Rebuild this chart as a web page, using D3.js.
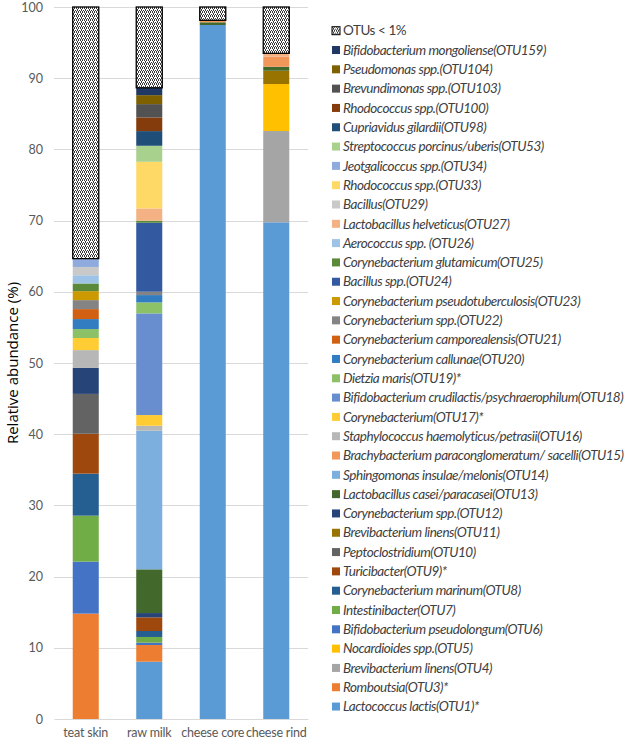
<!DOCTYPE html>
<html>
<head>
<meta charset="utf-8">
<script src="https://cdn.jsdelivr.net/npm/d3@7"></script>
<style>
  html, body { margin: 0; padding: 0; background: #fff; }
  svg { display: block; }
</style>
</head>
<body>
<svg id="chart" width="625" height="742"></svg>
<script>
const categories = ["teat skin", "raw milk", "cheese core", "cheese rind"];

// bottom-to-top stacking order
const seriesNames = [
  "Lactococcus lactis(OTU1)*",
  "Romboutsia(OTU3)*",
  "Brevibacterium linens(OTU4)",
  "Nocardioides spp.(OTU5)",
  "Bifidobacterium pseudolongum(OTU6)",
  "Intestinibacter(OTU7)",
  "Corynebacterium marinum(OTU8)",
  "Turicibacter(OTU9)*",
  "Peptoclostridium(OTU10)",
  "Brevibacterium linens(OTU11)",
  "Corynebacterium spp.(OTU12)",
  "Lactobacillus casei/paracasei(OTU13)",
  "Sphingomonas insulae/melonis(OTU14)",
  "Brachybacterium paraconglomeratum/ sacelli(OTU15)",
  "Staphylococcus haemolyticus/petrasii(OTU16)",
  "Corynebacterium(OTU17)*",
  "Bifidobacterium crudilactis/psychraerophilum(OTU18)",
  "Dietzia maris(OTU19)*",
  "Corynebacterium callunae(OTU20)",
  "Corynebacterium camporealensis(OTU21)",
  "Corynebacterium spp.(OTU22)",
  "Corynebacterium pseudotuberculosis(OTU23)",
  "Bacillus spp.(OTU24)",
  "Corynebacterium glutamicum(OTU25)",
  "Aerococcus spp. (OTU26)",
  "Lactobacillus helveticus(OTU27)",
  "Bacillus(OTU29)",
  "Rhodococcus spp.(OTU33)",
  "Jeotgalicoccus spp.(OTU34)",
  "Streptococcus porcinus/uberis(OTU53)",
  "Cupriavidus gilardii(OTU98)",
  "Rhodococcus spp.(OTU100)",
  "Brevundimonas spp.(OTU103)",
  "Pseudomonas spp.(OTU104)",
  "Bifidobacterium mongoliense(OTU159)",
  "OTUs < 1%"
];

const seriesColors = [
  "#5B9BD5", "#ED7D31", "#A5A5A5", "#FFC000", "#4472C4", "#70AD47",
  "#255E91", "#9E480E", "#636363", "#997300", "#264478", "#43682B",
  "#7CAFDD", "#F1975A", "#B7B7B7", "#FFCD33", "#698ED0", "#8CC168",
  "#327DC2", "#D26012", "#848484", "#CC9A00", "#335AA1", "#5A8A39",
  "#9DC3E6", "#F4B183", "#C9C9C9", "#FFD966", "#8FAADC", "#A9D18E",
  "#1F4E79", "#843C0C", "#525252", "#7F6000", "#203864", "url(#checker)"
];

// values (%) in the same order as seriesNames
const teatSkin   = [0, 14.8, 0, 0, 7.3, 6.46, 5.9, 5.6, 5.6, 0, 3.65, 0, 0, 0, 2.5, 1.7, 0, 1.26, 1.4, 1.4, 1.26, 1.26, 0, 1.08, 1.15, 0, 1.17, 0, 1.17, 0, 0, 0, 0, 0, 0, 35.34];
const rawMilk    = [8.05, 2.34, 0, 0, 0.33, 0.8, 0.84, 1.92, 0, 0, 0.6, 6.14, 19.47, 0, 0.7, 1.5, 14.28, 1.54, 1.03, 0, 0.47, 0, 9.69, 0.28, 0, 1.73, 0, 6.55, 0, 2.25, 2.06, 1.92, 1.87, 1.26, 1.03, 11.35];
const cheeseCore = [97.47, 0, 0, 0, 0, 0, 0, 0, 0, 0, 0, 0.38, 0, 0.28, 0, 0, 0, 0, 0, 0, 0, 0, 0, 0, 0, 0, 0, 0, 0, 0, 0, 0, 0, 0, 0, 1.87];
const cheeseRind = [69.76, 0, 12.82, 6.6, 0, 0, 0, 0, 0, 1.87, 0, 0.56, 0, 1.4, 0, 0, 0, 0, 0, 0, 0, 0, 0, 0, 0, 0.48, 0, 0, 0, 0, 0, 0, 0, 0, 0, 6.51];

const yTicks = [0, 10, 20, 30, 40, 50, 60, 70, 80, 90, 100];
const yLabel = "Relative abundance (%)";

const valuesByCategory = [teatSkin, rawMilk, cheeseCore, cheeseRind];
const table = categories.map((c, i) => {
  const row = { category: c };
  seriesNames.forEach((s, j) => row[s] = valuesByCategory[i][j]);
  return row;
});

const svg = d3.select("#chart");
const defs = svg.append("defs");
const pat = defs.append("pattern")
  .attr("id", "checker").attr("patternUnits", "userSpaceOnUse")
  .attr("width", 4).attr("height", 4);
pat.append("rect").attr("width", 4).attr("height", 4).attr("fill", "#ffffff");
[[0,0],[2,0],[1,1],[3,2],[1,2],[2,3],[0,3]].forEach(([px,py]) => {
  pat.append("rect").attr("x", px).attr("y", py).attr("width", 1).attr("height", 1).attr("fill", "#3a3a3a");
});

const x = d3.scaleBand().domain(categories).range([54, 308]).paddingInner(0.59).paddingOuter(0.295);
const y = d3.scaleLinear().domain([0, 100]).range([719, 7]);
const color = d3.scaleOrdinal().domain(seriesNames).range(seriesColors);

// gridlines
svg.append("g").selectAll("line").data(yTicks.filter(t => t > 0)).join("line")
  .attr("x1", 54).attr("x2", 308)
  .attr("y1", d => Math.round(y(d)) + 0.5).attr("y2", d => Math.round(y(d)) + 0.5)
  .attr("stroke", "#d9d9d9").attr("stroke-width", 1);

// y axis labels
const yAxis = d3.axisLeft(y).tickValues(yTicks).tickSize(0).tickPadding(11);
const gy = svg.append("g").attr("transform", "translate(54,0)").call(yAxis);
gy.select(".domain").remove();
gy.selectAll("text").attr("font-family", "Lato, Open Sans, sans-serif").attr("font-size", 12.5).attr("fill", "#595959");

// bars
const stack = d3.stack().keys(seriesNames);
const layers = stack(table);
svg.append("g").selectAll("g").data(layers).join("g")
  .attr("fill", d => color(d.key))
  .selectAll("rect").data(d => d.filter(p => p[1] - p[0] > 0).map(p => Object.assign(p, { key: d.key }))).join("rect")
  .attr("x", d => x(d.data.category))
  .attr("width", x.bandwidth())
  .attr("y", d => y(d[1]))
  .attr("height", d => y(d[0]) - y(d[1]))
  .attr("stroke", d => d.key === "OTUs < 1%" ? "#000" : "none")
  .attr("stroke-width", d => d.key === "OTUs < 1%" ? 1.3 : 0);

// x axis
const xAxis = d3.axisBottom(x).tickSize(0).tickPadding(9);
const gx = svg.append("g").attr("transform", "translate(0,719)").call(xAxis);
gx.select(".domain").attr("stroke", "#d9d9d9");
gx.selectAll("text").attr("font-family", "Lato, Open Sans, sans-serif").attr("font-size", 12.5)
  .attr("letter-spacing", "-0.2px").attr("fill", "#595959");

// y label
svg.append("text")
  .attr("transform", "translate(18,363) rotate(-90)")
  .attr("text-anchor", "middle")
  .attr("font-family", "Open Sans, sans-serif")
  .attr("font-size", 15)
  .attr("fill", "#000")
  .text(yLabel);

// legend (top to bottom = reverse stacking order)
const legendItems = seriesNames.slice().reverse();
const lg = svg.append("g").selectAll("g").data(legendItems).join("g")
  .attr("transform", (d, i) => `translate(332,${30.7 + i * 19.31})`);
lg.append("rect")
  .attr("x", 0).attr("y", -4).attr("width", 8).attr("height", 8)
  .attr("fill", d => color(d))
  .attr("stroke", d => d === "OTUs < 1%" ? "#000" : "none")
  .attr("stroke-width", 1);
lg.append("text")
  .attr("x", 11).attr("y", 0).attr("dy", "0.35em")
  .attr("font-family", "Lato, Open Sans, sans-serif")
  .attr("font-size", 13.5)
  .attr("letter-spacing", "-0.45px")
  .attr("font-style", d => d === "OTUs < 1%" ? "normal" : "italic")
  .attr("fill", "#404040")
  .text(d => d);
</script>
</body>
</html>
